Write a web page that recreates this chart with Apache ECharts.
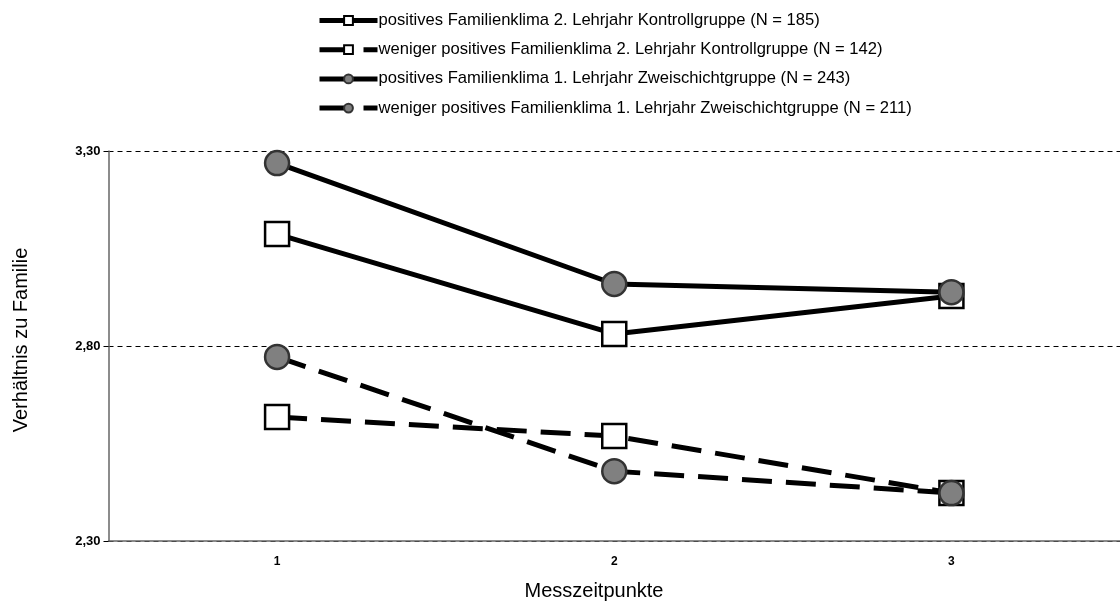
<!DOCTYPE html>
<html>
<head>
<meta charset="utf-8">
<script src="https://cdn.jsdelivr.net/npm/echarts@6/dist/echarts.min.js"></script>
<style>
html,body{margin:0;padding:0;background:#fff;}
#c{width:1120px;height:604px;}
</style>
</head>
<body>
<div id="c"></div>
<script>
const categories = ['1', '2', '3'];
const seriesNames = [
  'positives Familienklima 2. Lehrjahr Kontrollgruppe (N = 185)',
  'weniger positives Familienklima 2. Lehrjahr Kontrollgruppe (N = 142)',
  'positives Familienklima 1. Lehrjahr Zweischichtgruppe (N = 243)',
  'weniger positives Familienklima 1. Lehrjahr Zweischichtgruppe (N = 211)'
];
const posKontroll = [3.087, 2.831, 2.928];
const wenKontroll = [2.618, 2.569, 2.423];
const posZweischicht = [3.269, 2.959, 2.938];
const wenZweischicht = [2.772, 2.479, 2.423];
const yTicks = [2.3, 2.8, 3.3];
const xTitle = 'Messzeitpunkte';
const yTitle = 'Verhältnis zu Familie';

const chart = echarts.init(document.getElementById('c'), null, {renderer: 'canvas'});
const font = 'Arial, "Liberation Sans", sans-serif';

function mk(name, data, dashed, circle) {
  return {
    name: name,
    type: 'line',
    data: data,
    symbol: circle ? 'circle' : 'rect',
    symbolSize: 24,
    showAllSymbol: true,
    lineStyle: {color: '#000', width: 5, type: dashed ? [30, 14] : 'solid'},
    itemStyle: circle ? {color: '#808080', borderColor: '#333', borderWidth: 2.5}
                      : {color: '#fff', borderColor: '#000', borderWidth: 2.5},
    emphasis: {disabled: true},
    animation: false
  };
}

chart.setOption({
  backgroundColor: '#fff',
  animation: false,
  grid: {left: 108.5, top: 151, width: 1015.5, height: 390, containLabel: false},
  legend: {
    orient: 'vertical',
    left: 312,
    top: 7,
    itemWidth: 58,
    itemHeight: 11,
    itemGap: 12.2,
    lineStyle: {width: 5},
    itemStyle: {borderWidth: 2},
    textStyle: {fontFamily: font, fontSize: 16.6, color: '#000', padding: [0, 0, 0, -4]},
    data: seriesNames
  },
  xAxis: {
    type: 'category',
    data: categories,
    boundaryGap: true,
    axisLine: {lineStyle: {color: '#666', width: 1.5}},
    axisTick: {inside: true, length: 4, lineStyle: {color: '#000'}},
    axisLabel: {fontFamily: font, fontSize: 12, fontWeight: 'bold', color: '#000', margin: 15}
  },
  yAxis: {
    type: 'value',
    min: yTicks[0],
    max: yTicks[yTicks.length - 1],
    interval: 0.5,
    axisLine: {show: true, lineStyle: {color: '#666', width: 1.5}},
    axisTick: {show: true, length: 5, lineStyle: {color: '#000'}},
    axisLabel: {fontFamily: font, fontSize: 13, fontWeight: 'bold', color: '#000', margin: 8,
      formatter: v => v.toFixed(2).replace('.', ',')},
    splitLine: {show: true, lineStyle: {color: '#000', width: 1, type: [5, 4]}}
  },
  graphic: [
    {type: 'text', x: 594, y: 591, style: {text: xTitle, font: '20px ' + font, fill: '#000', textAlign: 'center', textVerticalAlign: 'middle'}},
    {type: 'text', x: 21, y: 340, rotation: Math.PI / 2, style: {text: yTitle, font: '20px ' + font, fill: '#000', textAlign: 'center', textVerticalAlign: 'middle'}}
  ],
  series: [
    mk(seriesNames[0], posKontroll, false, false),
    mk(seriesNames[1], wenKontroll, true, false),
    mk(seriesNames[2], posZweischicht, false, true),
    mk(seriesNames[3], wenZweischicht, true, true)
  ]
});
</script>
</body>
</html>
